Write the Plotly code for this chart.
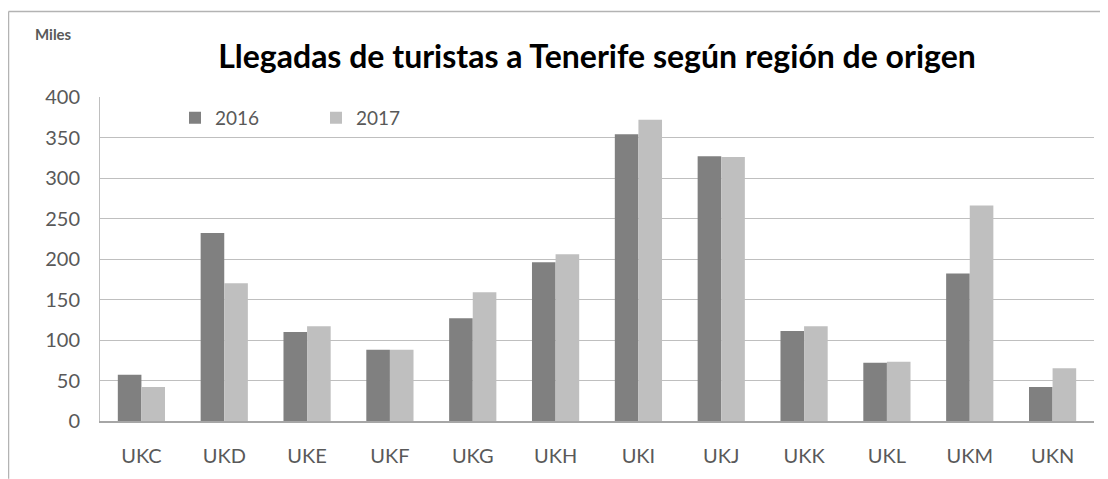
import plotly.graph_objects as go

categories = ["UKC", "UKD", "UKE", "UKF", "UKG", "UKH", "UKI", "UKJ", "UKK", "UKL", "UKM", "UKN"]
values_2016 = [57, 232, 110, 88, 127, 196, 354, 327, 111, 72, 182, 42]
values_2017 = [42, 170, 117, 88, 159, 206, 372, 326, 117, 73, 266, 65]
y_ticks = [0, 50, 100, 150, 200, 250, 300, 350, 400]

FONT = "Lato, 'Open Sans', sans-serif"
GRAY_TXT = "#595959"

fig = go.Figure()
fig.add_trace(go.Bar(name="2016", x=categories, y=values_2016,
                     marker=dict(color="#808080", line=dict(width=0))))
fig.add_trace(go.Bar(name="2017", x=categories, y=values_2017,
                     marker=dict(color="#bfbfbf", line=dict(width=0))))

# page body has an 8px margin; figure coordinates = window coordinates - 8
W, H = 1100, 471
L, R, T, B = 92, 14, 89, 56
pw, ph = W - L - R, H - T - B

def px_x(x):
    return (x - L) / pw

def px_y(y):
    return (H - B - y) / ph

fig.update_layout(
    width=W, height=H,
    margin=dict(l=L, r=R, t=T, b=B),
    paper_bgcolor="white", plot_bgcolor="white",
    barmode="group", bargap=0.43, bargroupgap=0.0,
    font=dict(family=FONT, color=GRAY_TXT, size=20),
    title=dict(text="<b>Llegadas de turistas a Tenerife según región de origen</b>",
               x=589 / W, xanchor="center",
               y=1 - 49 / H, yanchor="middle",
               font=dict(family=FONT, size=32, color="#000000")),
    showlegend=True,
    legend=dict(orientation="h", x=px_x(167), y=px_y(110), xanchor="left", yanchor="middle",
                font=dict(family=FONT, size=19, color=GRAY_TXT),
                itemwidth=30, entrywidth=96, entrywidthmode="pixels",
                bgcolor="rgba(0,0,0,0)", traceorder="normal"),
    xaxis=dict(showgrid=False, showline=True, linecolor="#a6a6a6", linewidth=1.5,
               ticks="", ticklabelstandoff=16,
               tickfont=dict(family=FONT, size=20, color=GRAY_TXT)),
    yaxis=dict(range=[0, 400], tickvals=y_ticks, showgrid=True, gridcolor="#bfbfbf", gridwidth=1,
               showline=True, linecolor="#bfbfbf", linewidth=1, zeroline=False,
               ticks="", ticklabelstandoff=15,
               tickfont=dict(family=FONT, size=20, color=GRAY_TXT)),
    annotations=[dict(text="<b>Miles</b>", xref="paper", yref="paper",
                      x=px_x(45), y=px_y(26), xanchor="center", yanchor="middle",
                      showarrow=False, font=dict(family=FONT, size=15, color=GRAY_TXT))],
    shapes=[
        dict(type="line", xref="paper", yref="paper", x0=px_x(0.5), x1=px_x(1102),
             y0=px_y(3), y1=px_y(3), line=dict(color="#b3b3b3", width=1.5)),
        dict(type="line", xref="paper", yref="paper", x0=px_x(0.5), x1=px_x(0.5),
             y0=px_y(3), y1=px_y(473), line=dict(color="#b3b3b3", width=1.5)),
    ],
)

fig.write_html("out.html")
